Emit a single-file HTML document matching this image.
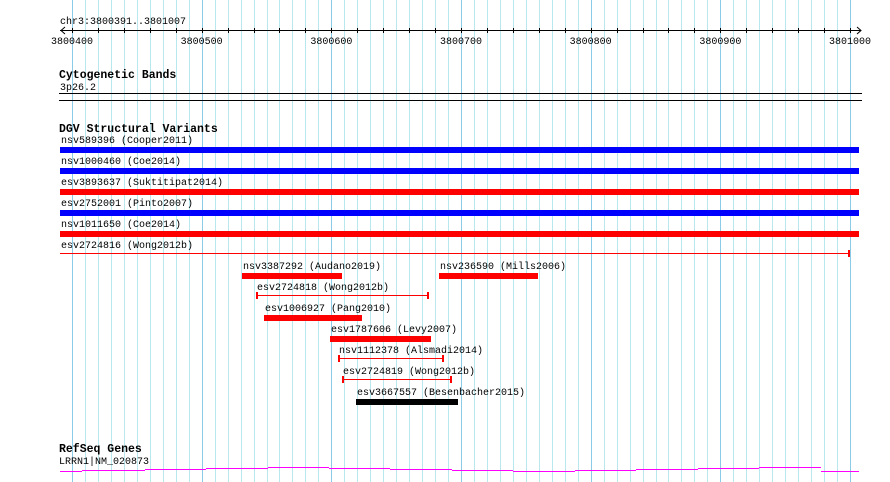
<!DOCTYPE html>
<html><head><meta charset="utf-8"><style>
html,body{margin:0;padding:0;background:#fff;}
svg{display:block;font-family:"Liberation Mono",monospace;}
.lbl{font-size:10px;fill:#000;}
.ttl{font-size:11.5px;font-weight:bold;fill:#000;}
</style></head><body>
<svg id="c" width="890" height="482" viewBox="0 0 890 482">
<g id="grid"></g>
<text class="lbl" x="60" y="24">chr3:3800391..3801007</text>
<g id="ruler"></g>
<text class="ttl" x="59" y="78">Cytogenetic Bands</text>
<text class="lbl" x="60" y="90">3p26.2</text>
<rect x="59" y="93" width="803" height="1" fill="#000"/>
<rect x="59" y="100" width="803" height="1" fill="#000"/>
<text class="ttl" x="59" y="132">DGV Structural Variants</text>
<g id="sv"></g>
<text class="ttl" x="59" y="452">RefSeq Genes</text>
<text class="lbl" x="59" y="464">LRRN1|NM_020873</text>
<g id="gene"></g>
</svg>
<script>
const viewStart = 3800391;
const viewEnd = 3801007;
const tickLabels = [3800400,3800500,3800600,3800700,3800800,3800900,3801000];
// structural variants
const svNames = ["nsv589396 (Cooper2011)","nsv1000460 (Coe2014)","esv3893637 (Suktitipat2014)","esv2752001 (Pinto2007)","nsv1011650 (Coe2014)","esv2724816 (Wong2012b)","nsv3387292 (Audano2019)","nsv236590 (Mills2006)","esv2724818 (Wong2012b)","esv1006927 (Pang2010)","esv1787606 (Levy2007)","nsv1112378 (Alsmadi2014)","esv2724819 (Wong2012b)","esv3667557 (Besenbacher2015)"];
const svStart = [3800391,3800391,3800391,3800391,3800391,3800391,3800531,3800683,3800542,3800548,3800599,3800605,3800608,3800619];
const svEnd = [3801007,3801007,3801007,3801007,3801007,3801000,3800608,3800759,3800675,3800624,3800677,3800687,3800693,3800698];
const svType = ["blue","blue","red","blue","red","redline","red","red","redline","red","red","redline","redline","black"];
const svRow = [0,1,2,3,4,5,6,6,7,8,9,10,11,12];
// gene exon-ish heights (y offset levels)
const geneBreaks = [3800391,3800408,3800456,3800503,3800551,3800598,3800645,3800693,3800740,3800788,3800835,3800883,3800930,3800978,3801007];
const geneLevel = [0,1,2,3,4,3,2,1,0,1,2,3,4,0];

const NS="http://www.w3.org/2000/svg";
const X = bp => 72 + (bp-3800400)*(778/600);
function mk(tag, attrs, parent){const e=document.createElementNS(NS,tag);for(const k in attrs)e.setAttribute(k,attrs[k]);parent.appendChild(e);return e;}
const grid=document.getElementById('grid');
for(let bp=3800400; bp<=viewEnd; bp+=10){
  const x=Math.round(X(bp))+0.5;
  const major = (bp%100===0);
  const l=mk('line',{x1:x,x2:x,y1:0,y2:482,stroke:major?'#8ccbe8':'#b8e8ee','stroke-width':1},grid);
  
  
}
const ruler=document.getElementById('ruler');
const axl=mk('line',{x1:60,x2:861,y1:30.5,y2:30.5,stroke:'#000'},ruler);


mk('path',{d:'M65,27 L61,30.5 L65,34 M857,27 L861,30.5 L857,34',stroke:'#000',fill:'none'},ruler);
for(let bp=3800400; bp<=viewEnd; bp+=20){
  const x=Math.round(X(bp))+0.5;
  mk('line',{x1:x,x2:x,y1:28,y2:33,stroke:'#000'},ruler);
}
tickLabels.forEach(t=>{
  const tx=mk('text',{x:X(t),y:44,'text-anchor':'middle',class:'lbl'},ruler);
  tx.textContent=t;
  
  
});
const sv=document.getElementById('sv');
const colors={blue:'#0000ff',red:'#ff0000',redline:'#ff0000',black:'#000000'};
svNames.forEach((n,i)=>{
  const r=svRow[i];
  const by = r<6 ? 147+r*21 : 273+(r-6)*21;
  const x1=Math.round(X(svStart[i])), x2=Math.round(X(svEnd[i]));
  const xs = Math.max(x1,59), xe=Math.min(x2,862);
  const t=mk('text',{x:xs+1,y:by-4,class:'lbl'},sv);
  t.textContent=n;
  
  
  let m;
  if(svType[i]==='redline'){
    m=mk('g',{},sv);
    mk('rect',{x:xs,y:by+1,width:xe-xs,height:1,fill:'#f00'},m);
    if(svStart[i]>viewStart) mk('rect',{x:xs,y:by-2,width:2,height:7,fill:'#f00'},m);
    mk('rect',{x:xe-2,y:by-2,width:2,height:7,fill:'#f00'},m);
  } else {
    m=mk('rect',{x:xs,y:by,width:xe-xs,height:6,fill:colors[svType[i]]},sv);
  }
  
  
});
const gene=document.getElementById('gene');
geneLevel.forEach((lv,i)=>{
  const x1=Math.max(Math.round(X(geneBreaks[i])),60), x2=Math.min(Math.round(X(geneBreaks[i+1])),861);
  const s=mk('rect',{x:x1,y:471-lv,width:x2-x1,height:1,fill:'#ff00ff'},gene);
  
  
});
</script>
</body></html>
